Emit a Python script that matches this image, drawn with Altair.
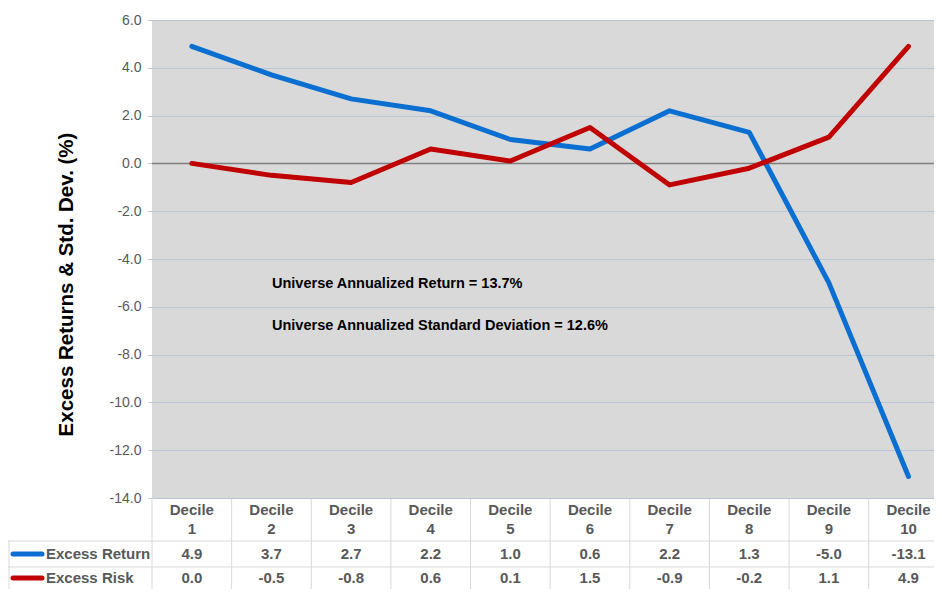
import altair as alt
import pandas as pd

# ---- data ----
categories = ["Decile 1", "Decile 2", "Decile 3", "Decile 4", "Decile 5",
              "Decile 6", "Decile 7", "Decile 8", "Decile 9", "Decile 10"]
excess_return = [4.9, 3.7, 2.7, 2.2, 1.0, 0.6, 2.2, 1.3, -5.0, -13.1]
excess_risk = [0.0, -0.5, -0.8, 0.6, 0.1, 1.5, -0.9, -0.2, 1.1, 4.9]
series_names = ["Excess Return", "Excess Risk"]
series_colors = ["#0A6FD0", "#C00000"]
y_ticks = [-14, -12, -10, -8, -6, -4, -2, 0, 2, 4, 6]
annotations = ["Universe Annualized Return = 13.7%",
               "Universe Annualized Standard Deviation = 12.6%"]

ARIAL = "Liberation Sans, Arial, sans-serif"
GRID = "#b9c5d6"
TABLE_LINE = "#d9d9d9"
TEXT_GRAY = "#595959"

idx = list(range(1, len(categories) + 1))
rows = []
for name, vals in zip(series_names, [excess_return, excess_risk]):
    for i, c, v in zip(idx, categories, vals):
        rows.append({"idx": i, "category": c, "series": name, "value": v,
                     "label": f"{v:.1f}"})
df = pd.DataFrame(rows)
cat_df = pd.DataFrame({"idx": idx, "category": categories})
bounds_df = pd.DataFrame({"b": [i - 0.5 for i in idx] + [len(idx) + 0.5]})

x_scale = alt.Scale(domain=[0.5, 10.32], nice=False, zero=False)
y_scale = alt.Scale(domain=[-14, 6], nice=False, zero=False)

zero_line = alt.Chart(pd.DataFrame({"z": [0]})).mark_rule(
    color="#808080", strokeWidth=1.5
).encode(y=alt.datum(0, scale=y_scale))

lines = alt.Chart(df).mark_line(strokeWidth=5, strokeCap="round", strokeJoin="round").encode(
    x=alt.X("idx:Q", scale=x_scale, axis=None),
    y=alt.Y("value:Q", scale=y_scale, axis=alt.Axis(
        values=y_ticks, format=".1f",
        labelExpr="replace(datum.label, '\u2212', '-')",
        title="Excess Returns & Std. Dev. (%)",
        titleFont=ARIAL, titleFontSize=20.5, titleFontWeight="bold", titleColor="black",
        titleAngle=270, titleAlign="center", titleBaseline="middle",
        titleX=-86, titleY=264,
        labelFont=ARIAL, labelFontSize=14, labelColor=TEXT_GRAY,
        labelPadding=7, tickColor=GRID, tickSize=4, domain=False, grid=True,
        gridColor=GRID, gridWidth=1)),
    color=alt.Color("series:N", scale=alt.Scale(domain=series_names, range=series_colors),
                    legend=None),
    detail="series:N",
)

ann_layers = []
for k, t in enumerate(annotations):
    ann_layers.append(
        alt.Chart(pd.DataFrame({"t": [t]})).mark_text(
            align="left", baseline="middle", font=ARIAL, fontSize=14.5,
            fontWeight="bold", color="black"
        ).encode(x=alt.value(120), y=alt.value(264 + 42 * k), text="t:N")
    )

# ---- data table below the plot ----
ROW_LINES = [521, 547]
ROW_TEXT = [534, 558]
v_lines = alt.Chart(bounds_df).mark_rule(color=TABLE_LINE, strokeWidth=1).encode(
    x=alt.X("b:Q", scale=x_scale), y=alt.value(479), y2=alt.value(600))
h_lines = []
for yy in ROW_LINES:
    h_lines.append(alt.Chart(pd.DataFrame({"r": [0]})).mark_rule(
        color=TABLE_LINE, strokeWidth=1).encode(
        x=alt.value(-144), x2=alt.value(800), y=alt.value(yy)))
left_border = alt.Chart(pd.DataFrame({"r": [0]})).mark_rule(
    color=TABLE_LINE, strokeWidth=1).encode(
    x=alt.value(-143), y=alt.value(ROW_LINES[0]), y2=alt.value(600))

header = alt.Chart(cat_df).mark_text(
    lineBreak=" ", baseline="middle", align="center", font=ARIAL, fontSize=15,
    fontWeight="bold", color=TEXT_GRAY, lineHeight=19
).encode(x=alt.X("idx:Q", scale=x_scale), y=alt.value(490), text="category:N")

row_layers = []
for k, (name, col) in enumerate(zip(series_names, series_colors)):
    ry = ROW_TEXT[k]
    sub = df[df["series"] == name]
    row_layers.append(alt.Chart(sub).mark_text(
        baseline="middle", align="center", font=ARIAL, fontSize=15,
        fontWeight="bold", color=TEXT_GRAY
    ).encode(x=alt.X("idx:Q", scale=x_scale), y=alt.value(ry), text="label:N"))
    row_layers.append(alt.Chart(pd.DataFrame({"s": [name]})).mark_text(
        baseline="middle", align="left", font=ARIAL, fontSize=15,
        fontWeight="bold", color=TEXT_GRAY
    ).encode(x=alt.value(-106), y=alt.value(ry), text="s:N"))
    row_layers.append(alt.Chart(pd.DataFrame({"s": [name]})).mark_rule(
        color=col, strokeWidth=5, strokeCap="round"
    ).encode(x=alt.value(-139), x2=alt.value(-110), y=alt.value(ry)))

chart = alt.layer(
    zero_line, lines, *ann_layers, v_lines, *h_lines, left_border, header, *row_layers
).properties(
    width=782, height=478,
    autosize=alt.AutoSizeParams(type="none"),
    padding={"left": 144, "top": 12, "right": 0, "bottom": 91},
).configure_view(fill="#d9d9d9", stroke=None)

chart.save("out.html", embed_options={"renderer": "svg", "actions": False})
